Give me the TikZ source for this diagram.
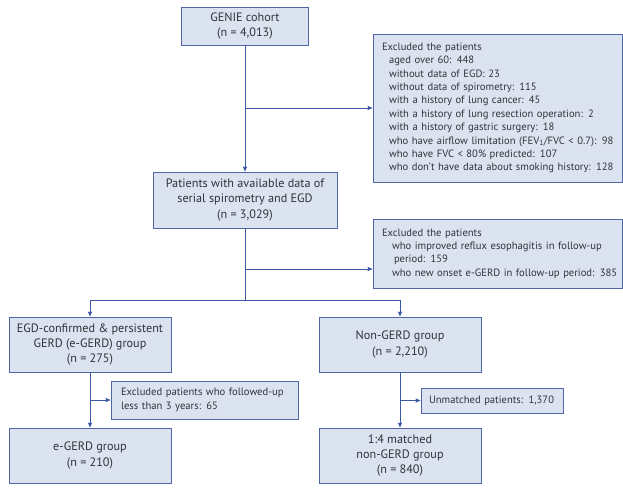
\documentclass[tikz,border=0pt]{standalone}
\usepackage{fontspec}
\setmainfont{PT Sans}
\usetikzlibrary{arrows.meta}
\definecolor{boxfill}{RGB}{220,227,240}
\definecolor{boxline}{RGB}{78,102,168}
\definecolor{conn}{RGB}{58,88,166}
\definecolor{txt}{RGB}{50,50,56}
\begin{document}
\begin{tikzpicture}[x=1pt,y=-1pt,
  box/.style={draw=boxline, fill=boxfill, line width=0.9pt, text=txt, align=center,
    font=\fontsize{12.2}{15.2}\selectfont, inner sep=0pt, minimum width=162pt, minimum height=55pt},
  exbox/.style={draw=boxline, fill=boxfill, line width=0.9pt, text=txt, align=left,
    font=\fontsize{10.6}{13.4}\selectfont, inner ysep=0pt},
  arr/.style={draw=conn, line width=0.9pt, -{Stealth[length=5pt,width=4.2pt,inset=0.6pt]}},
  ln/.style={draw=conn, line width=0.9pt}]
\useasboundingbox (0,0) rectangle (623,487);

\node[box, minimum width=127pt, minimum height=38pt] (genie) at (245,26) {GENIE cohort\\(n = 4,013)};
\node[box, minimum width=184pt, minimum height=56pt] (pat) at (245,200)
  {Patients with available data of\\serial spirometry and EGD\\(n = 3,029)};

\node[exbox, text width=231pt, inner xsep=9pt, minimum height=148pt] (ex1) at (497.5,108)
  {\mbox{Excluded the patients}\\
   \mbox{\hspace*{7pt}aged over 60: 448}\\
   \mbox{\hspace*{7pt}without data of EGD: 23}\\
   \mbox{\hspace*{7pt}without data of spirometry: 115}\\
   \mbox{\hspace*{7pt}with a history of lung cancer: 45}\\
   \mbox{\hspace*{7pt}with a history of lung resection operation: 2}\\
   \mbox{\hspace*{7pt}with a history of gastric surgery: 18}\\
   \mbox{\hspace*{7pt}who have airflow limitation (FEV\textsubscript{1}/FVC < 0.7): 98}\\
   \mbox{\hspace*{7pt}who have FVC < 80\% predicted: 107}\\
   \mbox{\hspace*{7pt}who don't have data about smoking history: 128}};

\node[exbox, text width=231pt, inner xsep=9pt, minimum height=69pt] (ex2) at (497.5,253.5)
  {\mbox{Excluded the patients}\\
   \mbox{\hspace*{10pt}who improved reflux esophagitis in follow-up}\\
   \mbox{\hspace*{12pt}period: 159}\\
   \mbox{\hspace*{10pt}who new onset e-GERD in follow-up period: 385}};

\node[box] (gerd) at (90,344.5) {EGD-confirmed \& persistent\\GERD (e-GERD) group\\(n = 275)};
\node[box] (nongerd) at (400,344.5) {Non-GERD group\\(n = 2,210)};

\node[exbox, text width=167pt, inner xsep=10pt, minimum height=38pt] (exs) at (204.5,400)
  {\mbox{Excluded patients who followed-up}\\\mbox{less than 3 years: 65}};
\node[exbox, text width=126pt, inner xsep=8pt, minimum height=25pt] (unm) at (492,400.5)
  {\mbox{Unmatched patients: 1,370}};

\node[box] (egerd) at (90,455.5) {e-GERD group\\(n = 210)};
\node[box] (matched) at (400,455.5) {1:4 matched\\non-GERD group\\(n = 840)};

\draw[arr] (genie.south) -- (pat.north);
\draw[arr] (genie.south |- ex1.west) -- (ex1.west);
\coordinate (j2) at (245,269);
\coordinate (split) at (245,300);
\draw[ln] (pat.south) -- (split);
\draw[arr] (j2) -- (j2 -| ex2.west);
\draw[arr] (split) -| (gerd.north);
\draw[arr] (split) -| (nongerd.north);
\draw[arr] (gerd.south) -- (egerd.north);
\draw[arr] (gerd.south |- exs.west) -- (exs.west);
\draw[arr] (nongerd.south) -- (matched.north);
\draw[arr] (nongerd.south |- unm.west) -- (unm.west);
\end{tikzpicture}
\end{document}
